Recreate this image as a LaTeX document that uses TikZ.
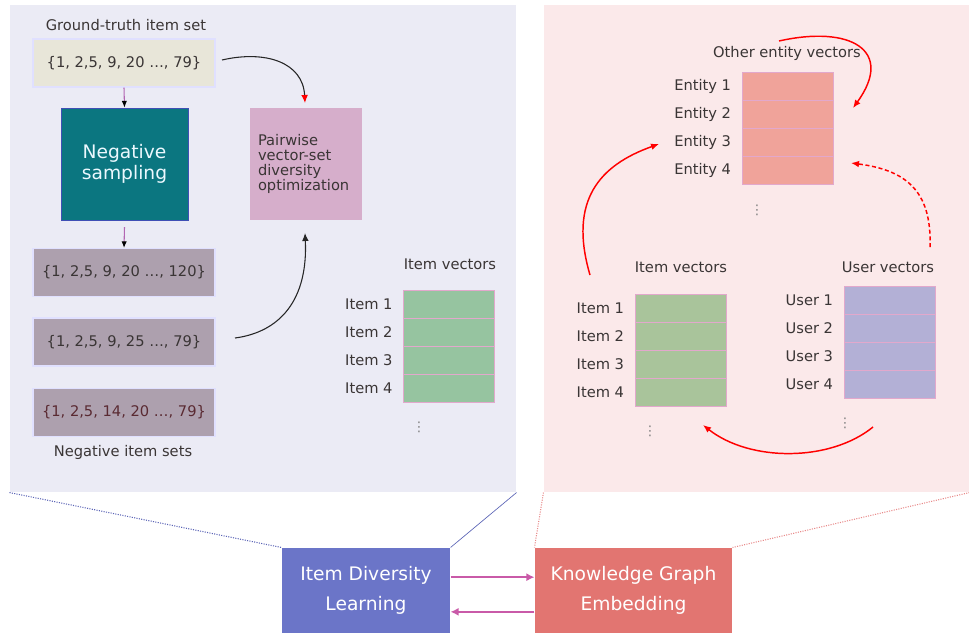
\documentclass[tikz,border=0pt]{standalone}
\usepackage{fontspec}
\setmainfont{DejaVu Sans}
\usetikzlibrary{arrows.meta,positioning}
\definecolor{panelL}{HTML}{EBEBF5}
\definecolor{panelR}{HTML}{FBE9EA}
\definecolor{gtfill}{HTML}{E8E6D9}
\definecolor{negfill}{HTML}{ADA0AE}
\definecolor{nsfill}{HTML}{0B7680}
\definecolor{nsline}{HTML}{3F4FB5}
\definecolor{pwfill}{HTML}{D6AECB}
\definecolor{itemgreen}{HTML}{96C4A0}
\definecolor{itemgreenB}{HTML}{A9C49B}
\definecolor{entfill}{HTML}{F0A39A}
\definecolor{userfill}{HTML}{B3B0D6}
\definecolor{idlfill}{HTML}{6B75C8}
\definecolor{kgefill}{HTML}{E27571}
\definecolor{linkpink}{HTML}{C95AA8}
\definecolor{sepline}{HTML}{E2A8CC}
\definecolor{labgray}{HTML}{3A3535}
\definecolor{negred}{HTML}{5A2A32}
\definecolor{zoomblue}{HTML}{5A63B5}
\definecolor{zoomred}{HTML}{E88A8A}
\begin{document}
\begin{tikzpicture}[x=.75pt,y=-.75pt,line width=.8pt,font=\fontsize{11}{12}\selectfont,
  set/.style={draw=blue!12,fill=negfill,minimum width=136.5pt,minimum height=36pt,text=labgray},
  vrow/.style={draw=sepline,line width=.6pt,minimum width=68.25pt,minimum height=21pt,inner sep=0pt},
  lab/.style={text=labgray,inner sep=0pt},
  vd/.style={text=gray,font=\fontsize{10}{10}\selectfont,inner sep=0pt},
  kgarrow/.style={red,line width=1.1pt,-{Latex[length=6pt,width=5pt]}},
  link/.style={linkpink,line width=1.6pt,-{Latex[length=6pt,width=6pt]}}]
\useasboundingbox (0,0) rectangle (969,633);
% panels
\node[fill=panelL,minimum width=379.5pt,minimum height=365.25pt,inner sep=0pt] (lpanel) at (263,248.5) {};
\node[fill=panelR,minimum width=318.75pt,minimum height=365.25pt,inner sep=0pt] (rpanel) at (756.5,248.5) {};
% item diversity learning
\node[lab] (gttit) at (126,25) {Ground-truth item set};
\node[set,fill=gtfill] (gt) at (124,63) {\{1, 2,5, 9, 20 \dots, 79\}};
\node[draw=nsline,line width=.6pt,fill=nsfill,minimum width=95.25pt,minimum height=84pt,text=cyan!8,align=center,font=\fontsize{14}{16}\selectfont] (ns) at (124.5,164) {Negative\\sampling};
\node[fill=pwfill,minimum width=84pt,minimum height=84pt,text width=72pt,align=left,text=labgray,font=\fontsize{11}{11.2}\selectfont] (pw) at (306,164) {Pairwise\\vector-set\\diversity\\optimization};
\node[set] (neg1) at (124,272.5) {\{1, 2,5, 9, 20 \dots, 120\}};
\node[set] (neg2) at (124,342) {\{1, 2,5, 9, 25 \dots, 79\}};
\node[set,text=negred] (neg3) at (124,412.5) {\{1, 2,5, 14, 20 \dots, 79\}};
\node[lab] (negtit) at (123,452) {Negative item sets};
\draw[violet!60,-{Latex[black,length=5pt,width=4pt]}] (gt.south) -- (ns.north);
\draw[violet!60,-{Latex[black,length=5pt,width=4pt]}] ([yshift=-5pt]ns.south) -- (neg1.north);
\coordinate (c1) at (222,60);
\coordinate (c2) at (305,103);
\coordinate (c3) at (235,338);
\coordinate (c4) at (305,233);
\draw[black!85,-{Latex[red,length=6pt,width=5pt]}] (c1) .. controls (265,50) and (303,62) .. (c2);
\draw[black!85,-{Latex[length=6pt,width=5pt]}] (c3) .. controls (280,332) and (308,300) .. (c4);
\node[lab] (litit) at (450,264) {Item vectors};
\node[lab] (entit) at (787,53) {Other entity vectors};
\node[lab] (ritit) at (681,267) {Item vectors};
\node[lab] (uetit) at (888,267) {User vectors};
% vector stacks
\foreach \nm/\cx/\ty/\col/\txt in {li/449/290/itemgreen/Item,ri/680.5/294/itemgreenB/Item,ue/889.5/286/userfill/User,en/787.5/72/entfill/Entity}
  \foreach \i in {1,...,4}{
    \node[vrow,fill=\col] (\nm\i) at (\cx,{\ty+28*\i-14}) {};
    \node[lab,left=7.5pt of \nm\i] (\nm lab\i) {\txt\ \i};
  }
\node[vd] (lidots) at (419,427) {⋮};
\node[vd] (endots) at (757,210) {⋮};
\node[vd] (ridots) at (650,431) {⋮};
\node[vd] (uedots) at (845,423) {⋮};
% knowledge graph embedding loops
\coordinate (r1) at (779,41);
\coordinate (r2) at (853,108);
\coordinate (r3) at (590,275);
\coordinate (r4) at (659,144);
\coordinate (r5) at (930,247);
\coordinate (r6) at (851,163);
\coordinate (r7) at (873,427);
\coordinate (r8) at (703,425);
\draw[kgarrow] (r1) .. controls (850,25) and (895,50) .. (r2);
\draw[kgarrow] (r3) .. controls (568,200) and (600,165) .. (r4);
\draw[kgarrow,densely dashed] (r5) .. controls (932,190) and (905,170) .. (r6);
\draw[kgarrow] (r7) .. controls (830,462) and (750,462) .. (r8);
% bottom modules
\node[fill=idlfill,minimum width=126pt,minimum height=63.75pt,text=white,align=center,font=\fontsize{14}{22}\selectfont] (idl) at (366,590.5) {Item Diversity\\Learning};
\node[fill=kgefill,minimum width=147.75pt,minimum height=63.75pt,text=white,align=center,font=\fontsize{14}{22}\selectfont] (kge) at (633.5,590.5) {Knowledge Graph\\Embedding};
\draw[link] ([yshift=10pt]idl.east) -- ([yshift=10pt]kge.west);
\draw[link] ([yshift=-16pt]kge.west) -- ([yshift=-16pt]idl.east);
\draw[zoomblue,densely dotted] (lpanel.south west) -- (idl.north west);
\draw[zoomblue,line width=.5pt] (lpanel.south east) -- (idl.north east);
\draw[zoomred,densely dotted] (rpanel.south west) -- (kge.north west);
\draw[zoomred,densely dotted] (rpanel.south east) -- (kge.north east);
\end{tikzpicture}
\end{document}
